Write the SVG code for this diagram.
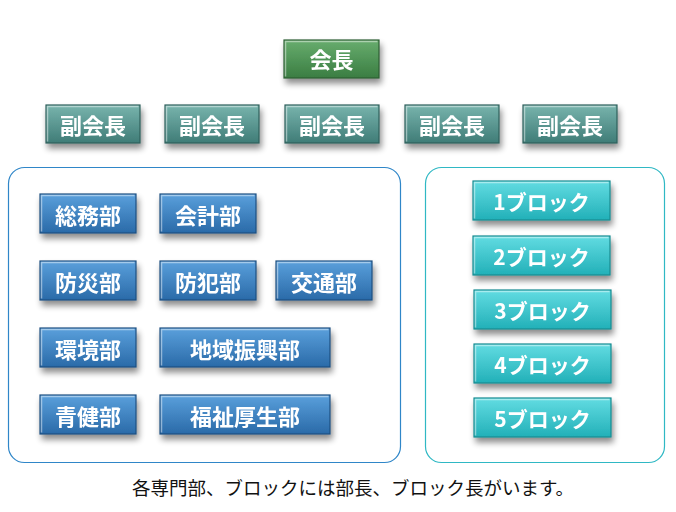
<svg xmlns="http://www.w3.org/2000/svg" width="676" height="512" viewBox="0 0 676 512">
<defs>
<linearGradient id="gGreen" x1="0" y1="0" x2="0" y2="1"><stop offset="0" stop-color="#68ad6e"/><stop offset="1" stop-color="#3a7d42"/></linearGradient>
<linearGradient id="gTeal" x1="0" y1="0" x2="0" y2="1"><stop offset="0" stop-color="#78b4ad"/><stop offset="1" stop-color="#3f7c77"/></linearGradient>
<linearGradient id="gBlue" x1="0" y1="0" x2="0" y2="1"><stop offset="0" stop-color="#5aa0dc"/><stop offset="1" stop-color="#2a6aa8"/></linearGradient>
<linearGradient id="gCyan" x1="0" y1="0" x2="0" y2="1"><stop offset="0" stop-color="#62dce2"/><stop offset="1" stop-color="#22b0b8"/></linearGradient>
<filter id="sh" x="-20%" y="-20%" width="140%" height="160%">
<feGaussianBlur in="SourceAlpha" stdDeviation="3"/>
<feOffset dx="2" dy="5" result="b"/>
<feComponentTransfer><feFuncA type="linear" slope="0.45"/></feComponentTransfer>
<feMerge><feMergeNode/><feMergeNode in="SourceGraphic"/></feMerge>
</filter>
</defs>
<style>
.box{filter:url(#sh);}
.green{fill:url(#gGreen);stroke:#2d5e33;stroke-width:1.2;}
.teal{fill:url(#gTeal);stroke:#2f5f5b;stroke-width:1.2;}
.blue{fill:url(#gBlue);stroke:#1d4f80;stroke-width:1.2;}
.cyan{fill:url(#gCyan);stroke:#1a8a90;stroke-width:1.2;}
.hl{fill:none;stroke:#ffffff;stroke-opacity:0.45;stroke-width:1.5;}
.lbl{font-family:"Noto Sans CJK JP","Noto Sans",sans-serif;font-weight:bold;fill:#ffffff;text-anchor:middle;dominant-baseline:central;font-size:22px;}
.clbl{font-size:21px;}
.cont{fill:#ffffff;stroke-width:1.2;}
.cap{font-family:"Noto Sans CJK JP","Noto Sans",sans-serif;font-size:18.5px;fill:#111111;text-anchor:middle;}
</style>
<g id="containers">
<rect id="leftPanel" class="cont" x="8.5" y="167.5" width="392" height="295" rx="16" stroke="#2f86c8"/>
<rect id="rightPanel" class="cont" x="425.5" y="167.5" width="239" height="295" rx="16" stroke="#2fb8c4"/>
</g>
<g id="connectors"/>
<g id="kaicho" class="box"><rect class="green" x="284" y="40" width="95" height="38"/><path class="hl" d="M285.5 76.5V41.5H377.5"/><text class="lbl" x="331.5" y="58">会長</text></g>
<g id="fuku1" class="box"><rect class="teal" x="46" y="105" width="94" height="38"/><path class="hl" d="M47.5 141.5V106.5H138.5"/><text class="lbl" x="93" y="124">副会長</text></g>
<g id="fuku2" class="box"><rect class="teal" x="165" y="105" width="94" height="38"/><path class="hl" d="M166.5 141.5V106.5H257.5"/><text class="lbl" x="212" y="124">副会長</text></g>
<g id="fuku3" class="box"><rect class="teal" x="285" y="105" width="94" height="38"/><path class="hl" d="M286.5 141.5V106.5H377.5"/><text class="lbl" x="332" y="124">副会長</text></g>
<g id="fuku4" class="box"><rect class="teal" x="405" y="105" width="94" height="38"/><path class="hl" d="M406.5 141.5V106.5H497.5"/><text class="lbl" x="452" y="124">副会長</text></g>
<g id="fuku5" class="box"><rect class="teal" x="523" y="105" width="94" height="38"/><path class="hl" d="M524.5 141.5V106.5H615.5"/><text class="lbl" x="570" y="124">副会長</text></g>
<g id="somu" class="box"><rect class="blue" x="40" y="194" width="96" height="39"/><path class="hl" d="M41.5 231.5V195.5H134.5"/><text class="lbl" x="88" y="213.5">総務部</text></g>
<g id="kaikei" class="box"><rect class="blue" x="160" y="194" width="96" height="39"/><path class="hl" d="M161.5 231.5V195.5H254.5"/><text class="lbl" x="208" y="213.5">会計部</text></g>
<g id="bosai" class="box"><rect class="blue" x="40" y="261" width="96" height="39"/><path class="hl" d="M41.5 298.5V262.5H134.5"/><text class="lbl" x="88" y="280.5">防災部</text></g>
<g id="bohan" class="box"><rect class="blue" x="160" y="261" width="96" height="39"/><path class="hl" d="M161.5 298.5V262.5H254.5"/><text class="lbl" x="208" y="280.5">防犯部</text></g>
<g id="kotsu" class="box"><rect class="blue" x="276" y="261" width="96" height="39"/><path class="hl" d="M277.5 298.5V262.5H370.5"/><text class="lbl" x="324" y="280.5">交通部</text></g>
<g id="kankyo" class="box"><rect class="blue" x="40" y="328" width="96" height="39"/><path class="hl" d="M41.5 365.5V329.5H134.5"/><text class="lbl" x="88" y="347.5">環境部</text></g>
<g id="chiiki" class="box"><rect class="blue" x="160" y="328" width="170" height="39"/><path class="hl" d="M161.5 365.5V329.5H328.5"/><text class="lbl" x="245" y="347.5">地域振興部</text></g>
<g id="seiken" class="box"><rect class="blue" x="40" y="395" width="96" height="39"/><path class="hl" d="M41.5 432.5V396.5H134.5"/><text class="lbl" x="88" y="414.5">青健部</text></g>
<g id="fukushi" class="box"><rect class="blue" x="160" y="395" width="170" height="39"/><path class="hl" d="M161.5 432.5V396.5H328.5"/><text class="lbl" x="245" y="414.5">福祉厚生部</text></g>
<g id="block1" class="box"><rect class="cyan" x="473" y="181" width="137" height="39"/><path class="hl" d="M474.5 218.5V182.5H608.5"/><text class="lbl clbl" x="541.5" y="200.5">1ブロック</text></g>
<g id="block2" class="box"><rect class="cyan" x="473" y="236" width="137" height="39"/><path class="hl" d="M474.5 273.5V237.5H608.5"/><text class="lbl clbl" x="541.5" y="255.5">2ブロック</text></g>
<g id="block3" class="box"><rect class="cyan" x="474" y="290" width="137" height="39"/><path class="hl" d="M475.5 327.5V291.5H609.5"/><text class="lbl clbl" x="542.5" y="309.5">3ブロック</text></g>
<g id="block4" class="box"><rect class="cyan" x="474" y="344" width="137" height="39"/><path class="hl" d="M475.5 381.5V345.5H609.5"/><text class="lbl clbl" x="542.5" y="363.5">4ブロック</text></g>
<g id="block5" class="box"><rect class="cyan" x="474" y="398" width="137" height="39"/><path class="hl" d="M475.5 435.5V399.5H609.5"/><text class="lbl clbl" x="542.5" y="417.5">5ブロック</text></g>
<text class="cap" x="353" y="495">各専門部、ブロックには部長、ブロック長がいます。</text>
</svg>
